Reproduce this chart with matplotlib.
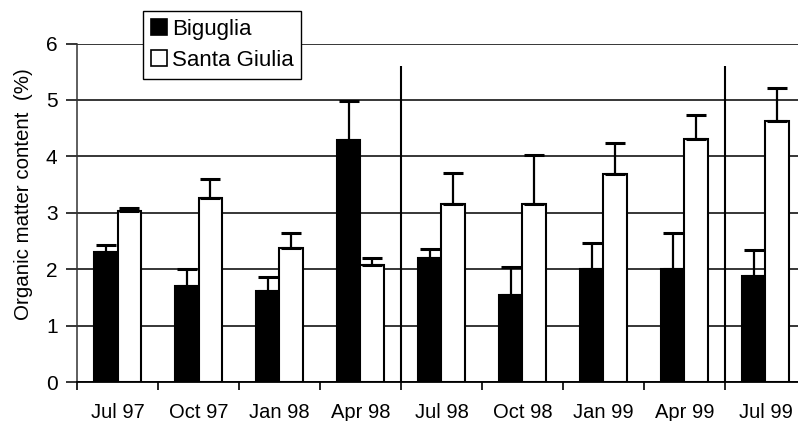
import numpy as np
import matplotlib.pyplot as plt
from matplotlib.patches import Patch

plt.rcParams['font.family'] = ['Liberation Sans', 'DejaVu Sans']

# sampling dates and organic matter (%) per lagoon, with upper error (SD)
dates = ["Jul 97", "Oct 97", "Jan 98", "Apr 98", "Jul 98",
         "Oct 98", "Jan 99", "Apr 99", "Jul 99"]
biguglia = [2.31, 1.71, 1.62, 4.29, 2.19, 1.54, 2.00, 2.00, 1.88]
biguglia_sd = [0.11, 0.29, 0.25, 0.69, 0.17, 0.50, 0.46, 0.65, 0.46]
santa_giulia = [3.03, 3.27, 2.38, 2.07, 3.16, 3.16, 3.69, 4.30, 4.63]
santa_giulia_sd = [0.06, 0.32, 0.27, 0.13, 0.54, 0.86, 0.55, 0.44, 0.58]
year_breaks = [3.5, 7.5]

x = np.arange(len(dates))
w = 0.29

fig = plt.figure(figsize=(7.98, 4.21), dpi=100)
ax = fig.add_axes([0.0965, 0.0926, 0.9135, 0.804])

err_kw = dict(ecolor="black", elinewidth=1.6, capsize=7, capthick=2.2)
ax.bar(x - w / 2, biguglia, w, color="black", edgecolor="black", linewidth=1.5,
       yerr=[np.zeros(len(x)), biguglia_sd], error_kw=err_kw, zorder=3)
ax.bar(x + w / 2, santa_giulia, w, color="white", edgecolor="black", linewidth=1.5,
       yerr=[np.zeros(len(x)), santa_giulia_sd], error_kw=err_kw, zorder=3)

ax.vlines(year_breaks, 0, 5.6, color="black", linewidth=1.5, zorder=4)

ax.set_xlim(-0.5, len(dates) - 0.5)
ax.set_ylim(0, 6)
ax.set_yticks(range(7))
ax.yaxis.grid(True, color="black", linewidth=1.1)
ax.set_axisbelow(True)

# tick marks between groups, labels under group centres
ax.set_xticks(np.arange(-0.5, len(dates), 1.0))
ax.set_xticklabels([])
ax.set_xticks(x, minor=True)
ax.set_xticklabels(dates, minor=True)
ax.tick_params(axis="x", which="major", direction="out", length=6, width=1.2)
ax.tick_params(axis="x", which="minor", length=0, pad=15, labelsize=14.5)
ax.tick_params(axis="y", direction="out", length=8, width=1.1, labelsize=15, pad=6)

for side in ["top", "right"]:
    ax.spines[side].set_visible(False)
ax.spines["left"].set_color("#333333")
ax.spines["left"].set_linewidth(1.1)
ax.spines["bottom"].set_linewidth(1.3)

ax.set_ylabel("Organic matter content  (%)", fontsize=14.8)
ax.yaxis.set_label_coords(-0.06, 0.555)

handles = [Patch(facecolor="black", edgecolor="black", linewidth=1.2),
           Patch(facecolor="white", edgecolor="black", linewidth=1.2)]
leg = fig.legend(handles, ["Biguglia", "Santa Giulia"], loc="upper left",
                 bbox_to_anchor=(143 / 798, 1 - 11 / 421), fontsize=16,
                 frameon=True, fancybox=False, handlelength=0.75, handleheight=0.75,
                 handletextpad=0.2, borderpad=0.35, labelspacing=0.45,
                 borderaxespad=0)
leg.get_frame().set_edgecolor("black")
leg.get_frame().set_linewidth(1.0)
leg.get_frame().set_alpha(1)

fig.savefig("out.png", dpi=100)
